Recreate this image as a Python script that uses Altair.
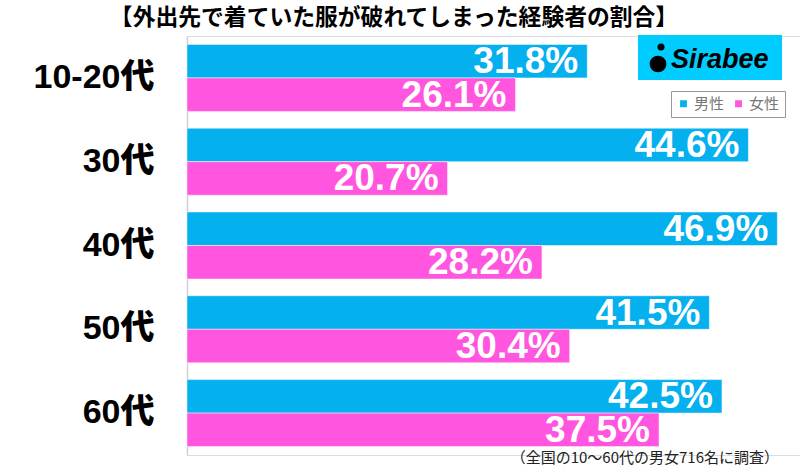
import altair as alt
import pandas as pd

categories = ["10-20代", "30代", "40代", "50代", "60代"]
male = [31.8, 44.6, 46.9, 41.5, 42.5]
female = [26.1, 20.7, 28.2, 30.4, 37.5]
genders = ["男性", "女性"]
colors = ["#05B0EF", "#FF55DF"]

rows = []
for c, m, f in zip(categories, male, female):
    rows.append({"cat": c, "gender": "男性", "value": m, "label": f"{m:.1f}%"})
    rows.append({"cat": c, "gender": "女性", "value": f, "label": f"{f:.1f}%"})
df = pd.DataFrame(rows)

W, H = 613, 419
JP = "Noto Sans CJK JP"
LAB = "Liberation Sans, Noto Sans CJK JP"

y_enc = alt.Y("cat:N", sort=categories, title=None,
              scale=alt.Scale(paddingInner=0.2, paddingOuter=0.1),
              axis=alt.Axis(labelFontSize=34, labelFont=LAB, labelFontWeight=900,
                            labelColor="#000", labelPadding=33, ticks=False,
                            domainColor="#d0d0d0", domainWidth=1.5))
x_enc = alt.X("value:Q", scale=alt.Scale(domain=[0, 48.7], nice=False), axis=None)
yoff = alt.YOffset("gender:N", sort=genders, scale=alt.Scale(paddingInner=0, paddingOuter=0))

base = alt.Chart(df)
bars = base.mark_bar(stroke="white", strokeWidth=0.5).encode(
    y=y_enc, x=x_enc, yOffset=yoff,
    color=alt.Color("gender:N", sort=genders, title=None,
                    scale=alt.Scale(domain=genders, range=colors),
                    legend=alt.Legend(orient="none", legendX=484, legendY=55,
                                      direction="horizontal", symbolType="square",
                                      symbolSize=70, labelFontSize=15, labelFont=JP,
                                      labelColor="#777", strokeColor="#999",
                                      padding=5, columnPadding=6, labelOffset=3)),
)
labels = base.mark_text(align="right", baseline="middle", dx=-9, dy=1,
                        color="white", fontSize=37, fontWeight="bold",
                        font="Liberation Sans").encode(
    y=alt.Y("cat:N", sort=categories), x="value:Q", yOffset=yoff, text="label:N")

title = alt.Chart(pd.DataFrame({"t": ["【外出先で着ていた服が破れてしまった経験者の割合】"]})).mark_text(
    align="center", baseline="middle", fontSize=22.8, fontWeight="bold", font=JP, color="#000"
).encode(x=alt.value(207), y=alt.value(-18), text="t:N")

note = alt.Chart(pd.DataFrame({"t": ["（全国の10〜60代の男女716名に調査）"]})).mark_text(
    align="right", baseline="middle", fontSize=15, font=JP, color="#222"
).encode(x=alt.value(592), y=alt.value(422), text="t:N")

logo_bg = alt.Chart(pd.DataFrame({"a": [1]})).mark_rect(color="#00CCFF").encode(
    x=alt.value(451), x2=alt.value(595), y=alt.value(-1), y2=alt.value(44))
logo_txt = alt.Chart(pd.DataFrame({"t": ["Sirabee"]})).mark_text(
    align="left", baseline="middle", fontSize=27, fontWeight="bold", fontStyle="italic",
    font="Liberation Sans", color="#000").encode(x=alt.value(484), y=alt.value(24), text="t:N")
logo_icon1 = alt.Chart(pd.DataFrame({"a": [1]})).mark_point(
    shape="circle", filled=True, color="#000", opacity=1, size=280).encode(
    x=alt.value(471), y=alt.value(28))
logo_icon2 = alt.Chart(pd.DataFrame({"a": [1]})).mark_point(
    shape="circle", filled=True, color="#000", opacity=1, size=50).encode(
    x=alt.value(474), y=alt.value(11))

chart = alt.layer(bars, labels, title, note, logo_bg, logo_icon1, logo_icon2, logo_txt).properties(
    width=W, height=H,
    autosize=alt.AutoSizeParams(type="none"),
    padding={"left": 187, "top": 36, "right": 0, "bottom": 11},
).configure_view(stroke=None).configure(background="white")

chart.save("out.html", embed_options={"renderer": "svg", "actions": False})
